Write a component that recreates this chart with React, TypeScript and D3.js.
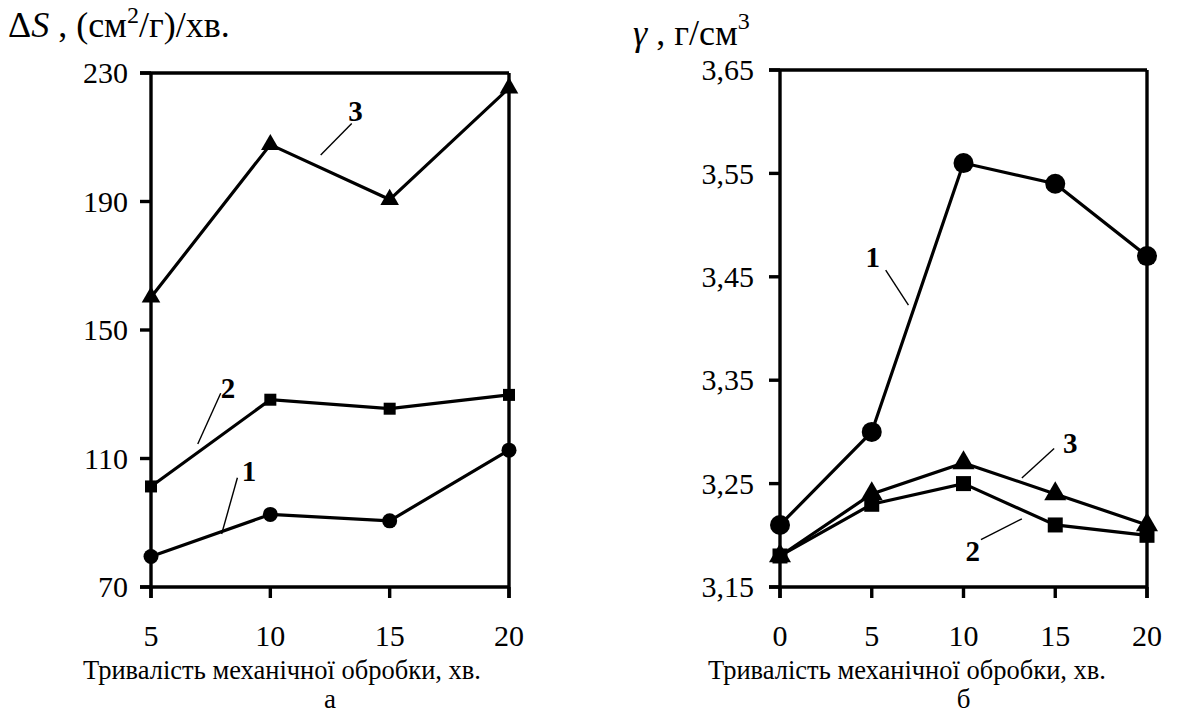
import React from "react";
import * as d3 from "d3";

// ---------- data ----------
const leftX = [5, 10, 15, 20];
const leftSeries1 = [79.5, 92.6, 90.6, 112.6];
const leftSeries2 = [101.3, 128.3, 125.5, 129.8];
const leftSeries3 = [160.2, 207.7, 190.6, 225.3];
const leftYTicks = [70, 110, 150, 190, 230];

const rightX = [0, 5, 10, 15, 20];
const rightSeries1 = [3.21, 3.3, 3.56, 3.54, 3.47];
const rightSeries2 = [3.18, 3.23, 3.25, 3.21, 3.2];
const rightSeries3 = [3.18, 3.24, 3.27, 3.24, 3.21];
const rightYTicks = [3.15, 3.25, 3.35, 3.45, 3.55, 3.65];

const xTitle = "Тривалість механічної обробки, хв.";

// annotations in data coordinates: label point, leader start, leader end
const leftNotes = [
  { text: "3", lx: 13.57, ly: 218.2, x1: 12.11, y1: 204.5, x2: 13.41, y2: 214.3 },
  { text: "2", lx: 8.23, ly: 131.9, x1: 6.96, y1: 114.5, x2: 7.92, y2: 130.3 },
  { text: "1", lx: 9.11, ly: 106.1, x1: 7.96, y1: 86.5, x2: 8.62, y2: 104.0 },
];
const rightNotes = [
  { text: "1", lx: 5.05, ly: 3.469, x1: 5.76, y1: 3.4565, x2: 7.0, y2: 3.4226 },
  { text: "3", lx: 15.82, ly: 3.2887, x1: 13.18, y1: 3.2555, x2: 14.94, y2: 3.284 },
  { text: "2", lx: 10.5, ly: 3.1844, x1: 10.95, y1: 3.1957, x2: 13.18, y2: 3.216 },
];

const FONT = "Liberation Serif";
const FS = 30;

type Note = { text: string; lx: number; ly: number; x1: number; y1: number; x2: number; y2: number };

function T(props: any) {
  const { size, weight, children, ...rest } = props;
  return (
    <text
      {...rest}
      fontFamily={FONT}
      fontSize={size || FS}
      fontWeight={weight || "normal"}
      style={{ fontFamily: "Liberation Serif, Times New Roman" }}
    >
      {children}
    </text>
  );
}

function Panel(props: {
  xs: number[];
  s1: number[];
  s2: number[];
  s3: number[];
  xDomain: [number, number];
  yDomain: [number, number];
  left: number;
  right: number;
  top: number;
  bottom: number;
  yTicks: number[];
  yFmt: (v: number) => string;
  notes: Note[];
  circleR: number;
  squareSide: number;
  triSize: number;
  lineW: number;
  labelX: number;
  titleX: number;
  letter: string;
}) {
  const { xs, s1, s2, s3, left, right, top, bottom } = props;
  const x = d3.scaleLinear().domain(props.xDomain).range([left, right]);
  const y = d3.scaleLinear().domain(props.yDomain).range([bottom, top]);
  const line = d3
    .line<number>()
    .x((_, i) => x(xs[i]))
    .y((d) => y(d));
  const tri = d3.symbol().type(d3.symbolTriangle).size(props.triSize)();
  const axisW = 3.4;
  const tickLen = 11;
  return (
    <g>
      {/* frame */}
      <line x1={left - tickLen} x2={right} y1={top} y2={top} stroke="#000" strokeWidth={axisW} />
      <line x1={left - tickLen} x2={right} y1={bottom} y2={bottom} stroke="#000" strokeWidth={axisW} />
      <line x1={left} x2={left} y1={top} y2={bottom + tickLen} stroke="#000" strokeWidth={axisW} />
      <line x1={right} x2={right} y1={top} y2={bottom + tickLen} stroke="#000" strokeWidth={axisW} />
      {props.yTicks.map((t) => (
        <g key={"y" + t}>
          <line x1={left - tickLen} x2={left} y1={y(t)} y2={y(t)} stroke="#000" strokeWidth={axisW} />
          <T x={props.labelX} y={y(t)} dy="0.34em" textAnchor="end">
            {props.yFmt(t)}
          </T>
        </g>
      ))}
      {xs.map((t) => (
        <g key={"x" + t}>
          <line x1={x(t)} x2={x(t)} y1={bottom} y2={bottom + tickLen} stroke="#000" strokeWidth={axisW} />
          <T x={x(t)} y={646} textAnchor="middle">
            {t}
          </T>
        </g>
      ))}
      <T x={props.titleX} y={679} size={26.5}>
        {xTitle}
      </T>
      <T x={(left + right) / 2} y={708} textAnchor="middle" size={27}>
        {props.letter}
      </T>

      {/* series lines */}
      {[s1, s2, s3].map((s, k) => (
        <path key={"l" + k} d={line(s) || ""} fill="none" stroke="#000" strokeWidth={props.lineW} />
      ))}
      {/* markers */}
      {s1.map((v, i) => (
        <circle key={"c" + i} cx={x(xs[i])} cy={y(v)} r={props.circleR} fill="#000" />
      ))}
      {s2.map((v, i) => (
        <rect
          key={"r" + i}
          x={x(xs[i]) - props.squareSide / 2}
          y={y(v) - props.squareSide / 2}
          width={props.squareSide}
          height={props.squareSide}
          fill="#000"
        />
      ))}
      {s3.map((v, i) => (
        <path key={"t" + i} d={tri || ""} transform={`translate(${x(xs[i])},${y(v)})`} fill="#000" />
      ))}
      {/* annotations */}
      {props.notes.map((n, i) => (
        <g key={"n" + i}>
          <line x1={x(n.x1)} y1={y(n.y1)} x2={x(n.x2)} y2={y(n.y2)} stroke="#000" strokeWidth={1.4} />
          <T x={x(n.lx)} y={y(n.ly)} dy="0.34em" textAnchor="middle" size={29} weight="bold">
            {n.text}
          </T>
        </g>
      ))}
    </g>
  );
}

export default function App() {
  return (
    <svg
      width={1187}
      height={723}
      fontFamily={FONT}
      style={{ position: "absolute", left: 0, top: 0, background: "#fff", fontFamily: "Liberation Serif" }}
    >
      <rect width={1187} height={723} fill="#fff" />
      {/* y titles */}
      <T x={8} y={37} size={36}>
        <tspan>Δ</tspan>
        <tspan fontStyle="italic">S</tspan>
        <tspan> , (см</tspan>
        <tspan fontSize={24} dy={-14}>2</tspan>
        <tspan dy={14}>/г)/хв.</tspan>
      </T>
      <T x={633} y={45} size={36}>
        <tspan fontStyle="italic">γ</tspan>
        <tspan> , г/см</tspan>
        <tspan fontSize={24} dy={-16}>3</tspan>
      </T>

      <Panel
        xs={leftX}
        s1={leftSeries1}
        s2={leftSeries2}
        s3={leftSeries3}
        xDomain={[5, 20]}
        yDomain={[70, 230]}
        left={151}
        right={509}
        top={73}
        bottom={587}
        yTicks={leftYTicks}
        yFmt={(v) => String(v)}
        notes={leftNotes}
        circleR={7.5}
        squareSide={12}
        triSize={150}
        lineW={3.2}
        labelX={128}
        titleX={83}
        letter="а"
      />
      <Panel
        xs={rightX}
        s1={rightSeries1}
        s2={rightSeries2}
        s3={rightSeries3}
        xDomain={[0, 20]}
        yDomain={[3.15, 3.65]}
        left={780}
        right={1147}
        top={70}
        bottom={587}
        yTicks={rightYTicks}
        yFmt={(v) => v.toFixed(2).replace(".", ",")}
        notes={rightNotes}
        circleR={10}
        squareSide={15}
        triSize={210}
        lineW={3.2}
        labelX={754}
        titleX={708}
        letter="б"
      />
    </svg>
  );
}
